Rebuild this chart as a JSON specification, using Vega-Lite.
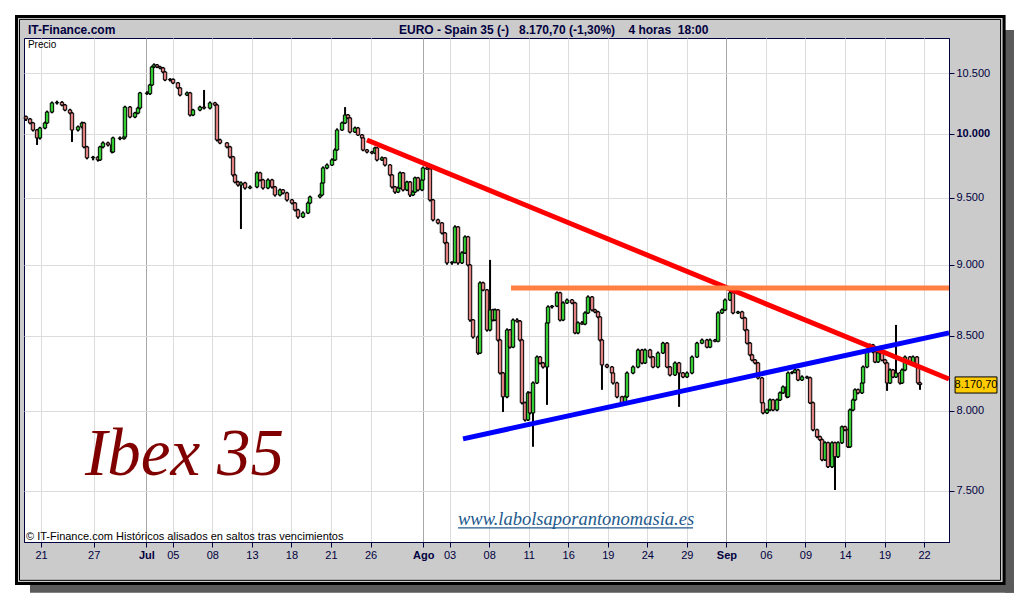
{
  "$schema": "https://vega.github.io/schema/vega-lite/v6.json",
  "description": "Ibex 35 - 4 hour candles with trend lines",
  "width": 925,
  "height": 504,
  "autosize": "none",
  "padding": {"left": 24, "top": 38, "right": 71, "bottom": 58},
  "background": "#cbcbcb",
  "config": {
    "view": {"fill": "white", "stroke": "#000040", "strokeWidth": 1},
    "font": "Liberation Sans"
  },
  "datasets": {
    "k": [
      {"t":-1.14,"o":10140,"h":10150,"l":10105,"c":10121},
      {"t":-0.83,"o":10121,"h":10130,"l":10078,"c":10089},
      {"t":-0.61,"o":10089,"h":10098,"l":10020,"c":10032},
      {"t":-0.30,"o":10032,"h":10040,"l":9912,"c":9968},
      {"t":-0.08,"o":9968,"h":10058,"l":9955,"c":10048},
      {"t":0.30,"o":10048,"h":10100,"l":10038,"c":10089},
      {"t":0.46,"o":10089,"h":10190,"l":10080,"c":10178},
      {"t":0.83,"o":10178,"h":10265,"l":10168,"c":10253},
      {"t":1.21,"o":10253,"h":10272,"l":10240,"c":10258},
      {"t":1.59,"o":10258,"h":10268,"l":10226,"c":10236},
      {"t":1.82,"o":10236,"h":10245,"l":10185,"c":10195},
      {"t":2.20,"o":10195,"h":10205,"l":10160,"c":10170},
      {"t":2.35,"o":10170,"h":10180,"l":9936,"c":10032},
      {"t":2.81,"o":10032,"h":10068,"l":10020,"c":10057},
      {"t":3.11,"o":10057,"h":10100,"l":10045,"c":10089},
      {"t":3.26,"o":10089,"h":10098,"l":9885,"c":9896},
      {"t":3.49,"o":9896,"h":9905,"l":9798,"c":9809},
      {"t":3.95,"o":9809,"h":9825,"l":9790,"c":9815},
      {"t":4.32,"o":9815,"h":9822,"l":9780,"c":9793},
      {"t":4.48,"o":9793,"h":9905,"l":9785,"c":9896},
      {"t":4.70,"o":9896,"h":9940,"l":9885,"c":9928},
      {"t":5.08,"o":9928,"h":9938,"l":9900,"c":9912},
      {"t":5.39,"o":9912,"h":9920,"l":9845,"c":9856},
      {"t":5.46,"o":9856,"h":9978,"l":9848,"c":9968},
      {"t":5.99,"o":9968,"h":9980,"l":9950,"c":9962},
      {"t":6.30,"o":9962,"h":9985,"l":9955,"c":9976},
      {"t":6.37,"o":9976,"h":10230,"l":9968,"c":10219},
      {"t":6.75,"o":10219,"h":10228,"l":10128,"c":10138},
      {"t":7.13,"o":10138,"h":10180,"l":10128,"c":10170},
      {"t":7.36,"o":10170,"h":10222,"l":10160,"c":10211},
      {"t":7.51,"o":10211,"h":10345,"l":10200,"c":10336},
      {"t":8.04,"o":10336,"h":10350,"l":10320,"c":10330},
      {"t":8.27,"o":10330,"h":10412,"l":10320,"c":10403},
      {"t":8.42,"o":10403,"h":10565,"l":10395,"c":10555},
      {"t":8.57,"o":10555,"h":10585,"l":10545,"c":10572},
      {"t":8.80,"o":10572,"h":10580,"l":10545,"c":10555},
      {"t":9.03,"o":10555,"h":10565,"l":10535,"c":10546},
      {"t":9.26,"o":10546,"h":10555,"l":10502,"c":10512},
      {"t":9.41,"o":10512,"h":10520,"l":10435,"c":10445},
      {"t":9.79,"o":10445,"h":10460,"l":10432,"c":10450},
      {"t":10.02,"o":10450,"h":10458,"l":10410,"c":10420},
      {"t":10.39,"o":10420,"h":10428,"l":10368,"c":10378},
      {"t":10.55,"o":10378,"h":10385,"l":10308,"c":10319},
      {"t":11.08,"o":10319,"h":10348,"l":10310,"c":10336},
      {"t":11.31,"o":10336,"h":10345,"l":10142,"c":10154},
      {"t":11.53,"o":10154,"h":10205,"l":10145,"c":10195},
      {"t":12.06,"o":10195,"h":10230,"l":10185,"c":10219},
      {"t":12.37,"o":10219,"h":10361,"l":10200,"c":10211},
      {"t":12.82,"o":10211,"h":10265,"l":10200,"c":10253},
      {"t":13.20,"o":10253,"h":10262,"l":10226,"c":10236},
      {"t":13.35,"o":10236,"h":10245,"l":9940,"c":9952},
      {"t":13.58,"o":9952,"h":9962,"l":9918,"c":9928},
      {"t":14.11,"o":9928,"h":9935,"l":9885,"c":9896},
      {"t":14.34,"o":9896,"h":9905,"l":9805,"c":9817},
      {"t":14.57,"o":9817,"h":9825,"l":9662,"c":9675},
      {"t":14.72,"o":9675,"h":9684,"l":9610,"c":9620},
      {"t":14.95,"o":9620,"h":9630,"l":9585,"c":9597},
      {"t":15.17,"o":9597,"h":9625,"l":9263,"c":9613},
      {"t":15.48,"o":9613,"h":9622,"l":9562,"c":9574},
      {"t":15.86,"o":9574,"h":9594,"l":9565,"c":9582},
      {"t":16.39,"o":9582,"h":9702,"l":9572,"c":9691},
      {"t":16.62,"o":9691,"h":9700,"l":9625,"c":9636},
      {"t":16.84,"o":9636,"h":9645,"l":9562,"c":9574},
      {"t":17.22,"o":9574,"h":9648,"l":9565,"c":9636},
      {"t":17.53,"o":9636,"h":9645,"l":9570,"c":9582},
      {"t":17.75,"o":9582,"h":9590,"l":9508,"c":9520},
      {"t":18.13,"o":9520,"h":9570,"l":9510,"c":9559},
      {"t":18.36,"o":9559,"h":9566,"l":9525,"c":9536},
      {"t":18.66,"o":9536,"h":9545,"l":9470,"c":9482},
      {"t":19.04,"o":9482,"h":9490,"l":9448,"c":9459},
      {"t":19.27,"o":9459,"h":9466,"l":9395,"c":9406},
      {"t":19.50,"o":9406,"h":9415,"l":9340,"c":9353},
      {"t":19.88,"o":9353,"h":9395,"l":9345,"c":9383},
      {"t":20.26,"o":9383,"h":9470,"l":9375,"c":9459},
      {"t":20.41,"o":9459,"h":9515,"l":9450,"c":9505},
      {"t":21.17,"o":9505,"h":9530,"l":9495,"c":9520},
      {"t":21.32,"o":9520,"h":9625,"l":9512,"c":9613},
      {"t":21.40,"o":9613,"h":9742,"l":9605,"c":9730},
      {"t":21.70,"o":9730,"h":9765,"l":9720,"c":9753},
      {"t":22.08,"o":9753,"h":9805,"l":9745,"c":9793},
      {"t":22.31,"o":9793,"h":9885,"l":9785,"c":9872},
      {"t":22.46,"o":9872,"h":10045,"l":9865,"c":10032},
      {"t":22.84,"o":10032,"h":10100,"l":10025,"c":10089},
      {"t":23.07,"o":10089,"h":10219,"l":10080,"c":10154},
      {"t":23.29,"o":10154,"h":10162,"l":10120,"c":10130},
      {"t":23.44,"o":10130,"h":10138,"l":10005,"c":10016},
      {"t":23.82,"o":10016,"h":10060,"l":10008,"c":10048},
      {"t":24.05,"o":10048,"h":10057,"l":9985,"c":9992},
      {"t":24.36,"o":9992,"h":10000,"l":9960,"c":9968},
      {"t":24.43,"o":9968,"h":9975,"l":9862,"c":9872},
      {"t":24.73,"o":9872,"h":9880,"l":9845,"c":9856},
      {"t":25.11,"o":9856,"h":9865,"l":9838,"c":9848},
      {"t":25.34,"o":9848,"h":9898,"l":9840,"c":9888},
      {"t":25.49,"o":9888,"h":9895,"l":9782,"c":9793},
      {"t":25.87,"o":9793,"h":9820,"l":9785,"c":9809},
      {"t":26.10,"o":9809,"h":9815,"l":9742,"c":9753},
      {"t":26.48,"o":9753,"h":9760,"l":9665,"c":9675},
      {"t":26.63,"o":9675,"h":9682,"l":9570,"c":9582},
      {"t":26.86,"o":9582,"h":9590,"l":9530,"c":9543},
      {"t":27.09,"o":9543,"h":9585,"l":9535,"c":9574},
      {"t":27.24,"o":9574,"h":9702,"l":9565,"c":9691},
      {"t":27.47,"o":9691,"h":9698,"l":9548,"c":9559},
      {"t":27.77,"o":9559,"h":9630,"l":9550,"c":9620},
      {"t":28.00,"o":9620,"h":9628,"l":9505,"c":9520},
      {"t":28.22,"o":9520,"h":9555,"l":9512,"c":9543},
      {"t":28.38,"o":9543,"h":9662,"l":9535,"c":9652},
      {"t":28.60,"o":9652,"h":9660,"l":9548,"c":9559},
      {"t":28.91,"o":9559,"h":9645,"l":9550,"c":9636},
      {"t":28.98,"o":9636,"h":9740,"l":9628,"c":9730},
      {"t":29.29,"o":9730,"h":9760,"l":9715,"c":9722},
      {"t":29.51,"o":9722,"h":9730,"l":9470,"c":9482},
      {"t":29.74,"o":9482,"h":9490,"l":9320,"c":9331},
      {"t":30.12,"o":9331,"h":9340,"l":9298,"c":9308},
      {"t":30.42,"o":9308,"h":9315,"l":9222,"c":9233},
      {"t":30.65,"o":9233,"h":9240,"l":9150,"c":9160},
      {"t":30.80,"o":9160,"h":9168,"l":9000,"c":9013},
      {"t":31.18,"o":9013,"h":9025,"l":9000,"c":9018},
      {"t":31.41,"o":9018,"h":9290,"l":9010,"c":9278},
      {"t":31.64,"o":9278,"h":9285,"l":9000,"c":9013},
      {"t":31.94,"o":9013,"h":9098,"l":9005,"c":9086},
      {"t":32.17,"o":9086,"h":9215,"l":9078,"c":9204},
      {"t":32.40,"o":9204,"h":9212,"l":8988,"c":8998},
      {"t":32.55,"o":8998,"h":9005,"l":8596,"c":8608},
      {"t":32.78,"o":8608,"h":8615,"l":8480,"c":8491},
      {"t":33.16,"o":8491,"h":8500,"l":8370,"c":8382},
      {"t":33.31,"o":8382,"h":8880,"l":8375,"c":8869},
      {"t":33.54,"o":8869,"h":8878,"l":8810,"c":8819},
      {"t":33.84,"o":8819,"h":8826,"l":8528,"c":8539},
      {"t":34.07,"o":8539,"h":9035,"l":8530,"c":8678},
      {"t":34.29,"o":8678,"h":8686,"l":8598,"c":8608},
      {"t":34.45,"o":8608,"h":8688,"l":8600,"c":8678},
      {"t":34.67,"o":8678,"h":8685,"l":8460,"c":8470},
      {"t":34.83,"o":8470,"h":8478,"l":8238,"c":8248},
      {"t":35.05,"o":8248,"h":8255,"l":7993,"c":8091},
      {"t":35.36,"o":8091,"h":8550,"l":8082,"c":8539},
      {"t":35.58,"o":8539,"h":8546,"l":8412,"c":8422},
      {"t":35.81,"o":8422,"h":8618,"l":8415,"c":8608},
      {"t":36.12,"o":8608,"h":8620,"l":8590,"c":8600},
      {"t":36.34,"o":8600,"h":8608,"l":8460,"c":8470},
      {"t":36.49,"o":8470,"h":8478,"l":8042,"c":8052},
      {"t":36.72,"o":8052,"h":8060,"l":7932,"c":7942},
      {"t":36.95,"o":7942,"h":8128,"l":7935,"c":8117},
      {"t":37.10,"o":8117,"h":8125,"l":7978,"c":7987},
      {"t":37.33,"o":7987,"h":8192,"l":7772,"c":8182},
      {"t":37.63,"o":8182,"h":8365,"l":8175,"c":8355},
      {"t":37.86,"o":8355,"h":8362,"l":8305,"c":8315},
      {"t":38.09,"o":8315,"h":8322,"l":8278,"c":8288},
      {"t":38.39,"o":8288,"h":8598,"l":8039,"c":8588},
      {"t":38.47,"o":8588,"h":8710,"l":8580,"c":8699},
      {"t":38.77,"o":8699,"h":8712,"l":8688,"c":8705},
      {"t":39.15,"o":8705,"h":8808,"l":8698,"c":8798},
      {"t":39.38,"o":8798,"h":8806,"l":8598,"c":8608},
      {"t":39.61,"o":8608,"h":8738,"l":8600,"c":8727},
      {"t":39.91,"o":8727,"h":8758,"l":8720,"c":8748},
      {"t":40.29,"o":8748,"h":8755,"l":8718,"c":8727},
      {"t":40.52,"o":8727,"h":8735,"l":8510,"c":8519},
      {"t":40.74,"o":8519,"h":8598,"l":8510,"c":8588},
      {"t":41.05,"o":8588,"h":8600,"l":8575,"c":8580},
      {"t":41.27,"o":8580,"h":8668,"l":8572,"c":8657},
      {"t":41.50,"o":8657,"h":8780,"l":8650,"c":8769},
      {"t":41.81,"o":8769,"h":8776,"l":8668,"c":8678},
      {"t":42.03,"o":8678,"h":8686,"l":8655,"c":8664},
      {"t":42.26,"o":8664,"h":8672,"l":8620,"c":8629},
      {"t":42.41,"o":8629,"h":8636,"l":8460,"c":8470},
      {"t":42.56,"o":8470,"h":8478,"l":8137,"c":8302},
      {"t":42.94,"o":8302,"h":8310,"l":8280,"c":8288},
      {"t":43.32,"o":8288,"h":8295,"l":8240,"c":8248},
      {"t":43.40,"o":8248,"h":8255,"l":8172,"c":8182},
      {"t":43.70,"o":8182,"h":8190,"l":8082,"c":8091},
      {"t":44.08,"o":8091,"h":8098,"l":8044,"c":8052},
      {"t":44.31,"o":8052,"h":8100,"l":8045,"c":8091},
      {"t":44.46,"o":8091,"h":8258,"l":8084,"c":8248},
      {"t":44.92,"o":8248,"h":8298,"l":8240,"c":8288},
      {"t":45.30,"o":8288,"h":8412,"l":8280,"c":8402},
      {"t":45.60,"o":8402,"h":8410,"l":8306,"c":8315},
      {"t":45.83,"o":8315,"h":8412,"l":8308,"c":8402},
      {"t":46.21,"o":8402,"h":8410,"l":8346,"c":8355},
      {"t":46.43,"o":8355,"h":8362,"l":8280,"c":8288},
      {"t":46.81,"o":8288,"h":8392,"l":8280,"c":8382},
      {"t":47.19,"o":8382,"h":8458,"l":8375,"c":8449},
      {"t":47.50,"o":8449,"h":8456,"l":8280,"c":8288},
      {"t":47.72,"o":8288,"h":8295,"l":8226,"c":8235},
      {"t":48.10,"o":8235,"h":8325,"l":8228,"c":8315},
      {"t":48.41,"o":8315,"h":8322,"l":8026,"c":8248},
      {"t":48.71,"o":8248,"h":8255,"l":8214,"c":8222},
      {"t":49.01,"o":8222,"h":8258,"l":8215,"c":8248},
      {"t":49.39,"o":8248,"h":8365,"l":8240,"c":8355},
      {"t":49.77,"o":8355,"h":8458,"l":8348,"c":8449},
      {"t":50.15,"o":8449,"h":8480,"l":8442,"c":8470},
      {"t":50.53,"o":8470,"h":8478,"l":8414,"c":8422},
      {"t":50.76,"o":8422,"h":8480,"l":8415,"c":8470},
      {"t":51.14,"o":8470,"h":8478,"l":8455,"c":8462},
      {"t":51.37,"o":8462,"h":8668,"l":8455,"c":8657},
      {"t":51.67,"o":8657,"h":8688,"l":8650,"c":8678},
      {"t":51.90,"o":8678,"h":8758,"l":8670,"c":8748},
      {"t":52.28,"o":8748,"h":8833,"l":8740,"c":8798},
      {"t":52.50,"o":8798,"h":8806,"l":8648,"c":8657},
      {"t":52.88,"o":8657,"h":8672,"l":8650,"c":8664},
      {"t":53.19,"o":8664,"h":8672,"l":8614,"c":8622},
      {"t":53.41,"o":8622,"h":8630,"l":8530,"c":8539},
      {"t":53.57,"o":8539,"h":8546,"l":8440,"c":8449},
      {"t":53.79,"o":8449,"h":8456,"l":8360,"c":8369},
      {"t":53.95,"o":8369,"h":8376,"l":8326,"c":8335},
      {"t":54.17,"o":8335,"h":8342,"l":8306,"c":8315},
      {"t":54.40,"o":8315,"h":8322,"l":8206,"c":8215},
      {"t":54.70,"o":8215,"h":8222,"l":8044,"c":8052},
      {"t":54.78,"o":8052,"h":8060,"l":7978,"c":7987},
      {"t":55.08,"o":7987,"h":8015,"l":7980,"c":8006},
      {"t":55.31,"o":8006,"h":8080,"l":7998,"c":8071},
      {"t":55.54,"o":8071,"h":8078,"l":7998,"c":8006},
      {"t":55.84,"o":8006,"h":8080,"l":7998,"c":8071},
      {"t":56.07,"o":8071,"h":8126,"l":8064,"c":8117},
      {"t":56.30,"o":8117,"h":8165,"l":8110,"c":8156},
      {"t":56.60,"o":8156,"h":8163,"l":8082,"c":8091},
      {"t":56.68,"o":8091,"h":8258,"l":8084,"c":8248},
      {"t":56.98,"o":8248,"h":8260,"l":8240,"c":8252},
      {"t":57.21,"o":8252,"h":8278,"l":8245,"c":8268},
      {"t":57.44,"o":8268,"h":8275,"l":8194,"c":8202},
      {"t":57.74,"o":8202,"h":8232,"l":8195,"c":8222},
      {"t":58.12,"o":8222,"h":8230,"l":8210,"c":8216},
      {"t":58.35,"o":8216,"h":8224,"l":8044,"c":8052},
      {"t":58.57,"o":8052,"h":8060,"l":7870,"c":7879},
      {"t":58.88,"o":7879,"h":7886,"l":7826,"c":7835},
      {"t":59.10,"o":7835,"h":7842,"l":7808,"c":7816},
      {"t":59.26,"o":7816,"h":7824,"l":7682,"c":7691},
      {"t":59.48,"o":7691,"h":7806,"l":7684,"c":7797},
      {"t":59.71,"o":7797,"h":7804,"l":7640,"c":7648},
      {"t":60.02,"o":7648,"h":7806,"l":7640,"c":7797},
      {"t":60.24,"o":7797,"h":7804,"l":7506,"c":7710},
      {"t":60.47,"o":7710,"h":7806,"l":7702,"c":7797},
      {"t":60.77,"o":7797,"h":7906,"l":7790,"c":7898},
      {"t":61.00,"o":7898,"h":7905,"l":7870,"c":7879},
      {"t":61.23,"o":7879,"h":7886,"l":7764,"c":7772},
      {"t":61.38,"o":7772,"h":8015,"l":7765,"c":8006},
      {"t":61.61,"o":8006,"h":8080,"l":7998,"c":8071},
      {"t":61.76,"o":8071,"h":8146,"l":8064,"c":8137},
      {"t":61.99,"o":8137,"h":8145,"l":8108,"c":8117},
      {"t":62.29,"o":8117,"h":8192,"l":8110,"c":8182},
      {"t":62.37,"o":8182,"h":8298,"l":8175,"c":8288},
      {"t":62.67,"o":8288,"h":8412,"l":8280,"c":8402},
      {"t":62.90,"o":8402,"h":8446,"l":8395,"c":8436},
      {"t":63.13,"o":8436,"h":8444,"l":8380,"c":8389},
      {"t":63.28,"o":8389,"h":8396,"l":8314,"c":8322},
      {"t":63.51,"o":8322,"h":8392,"l":8315,"c":8382},
      {"t":63.81,"o":8382,"h":8390,"l":8326,"c":8335},
      {"t":64.04,"o":8335,"h":8342,"l":8306,"c":8315},
      {"t":64.19,"o":8315,"h":8322,"l":8130,"c":8182},
      {"t":64.42,"o":8182,"h":8278,"l":8175,"c":8268},
      {"t":64.64,"o":8268,"h":8275,"l":8214,"c":8222},
      {"t":64.87,"o":8222,"h":8574,"l":8215,"c":8248},
      {"t":65.17,"o":8248,"h":8255,"l":8172,"c":8182},
      {"t":65.33,"o":8182,"h":8278,"l":8175,"c":8268},
      {"t":65.55,"o":8268,"h":8365,"l":8260,"c":8355},
      {"t":65.93,"o":8355,"h":8362,"l":8306,"c":8315},
      {"t":66.16,"o":8315,"h":8365,"l":8308,"c":8355},
      {"t":66.46,"o":8355,"h":8362,"l":8280,"c":8288},
      {"t":66.54,"o":8288,"h":8295,"l":8172,"c":8182},
      {"t":66.69,"o":8182,"h":8190,"l":8137,"c":8171}
    ],
    "tl": [
      {"name": "red", "t": 24.73, "v": 9952},
      {"name": "red", "t": 68.89, "v": 8208},
      {"name": "orange", "t": 35.66, "v": 8833},
      {"name": "orange", "t": 68.89, "v": 8833},
      {"name": "blue", "t": 32.02, "v": 7822},
      {"name": "blue", "t": 68.89, "v": 8519}
    ],
    "one": [{}]
  },
  "layer": [
    {
      "data": {"name": "k"},
      "mark": {"type": "rule", "color": "black", "strokeWidth": 2},
      "encoding": {
        "x": {
          "field": "t",
          "type": "quantitative",
          "title": null,
          "scale": {"domain": [-1.29, 68.89], "nice": false, "zero": false, "padding": 0},
          "axis": {
            "values": [0, 4, 8, 10, 13, 16, 19, 22, 25, 29, 31, 34, 37, 40, 43, 46, 49, 52, 55, 58, 61, 64, 67],
            "labelExpr": "['21','27','Jul','05','08','13','18','21','26','Ago','03','08','11','16','19','24','29','Sep','06','09','14','19','22'][indexof([0,4,8,10,13,16,19,22,25,29,31,34,37,40,43,46,49,52,55,58,61,64,67], datum.value)]",
            "labelFontWeight": {"condition": {"test": "datum.value == 8 || datum.value == 29 || datum.value == 52", "value": "bold"}, "value": "normal"},
            "gridColor": {"condition": {"test": "datum.value == 8 || datum.value == 29 || datum.value == 52", "value": "#a8a8a8"}, "value": "#dcdcdc"},
            "grid": true,
            "labelFontSize": 11,
            "labelColor": "#000040",
            "labelFlush": false,
            "labelOverlap": false,
            "labelPadding": 2,
            "tickSize": 5,
            "tickColor": "#000040",
            "domainColor": "#000040"
          }
        },
        "y": {
          "field": "l",
          "type": "quantitative",
          "title": null,
          "scale": {"type": "log", "domain": [7198, 10804], "nice": false, "zero": false, "padding": 0},
          "axis": {
            "orient": "right",
            "values": [7500, 8000, 8500, 9000, 9500, 10000, 10500],
            "labelExpr": "replace(format(datum.value, ','), ',', '.')",
            "labelFontWeight": {"condition": {"test": "datum.value == 10000", "value": "bold"}, "value": "normal"},
            "grid": true,
            "gridColor": "#dcdcdc",
            "labelFontSize": 11,
            "labelColor": "#000040",
            "labelPadding": 2,
            "tickSize": 5,
            "tickColor": "#000040",
            "domainColor": "#000040"
          }
        },
        "y2": {"field": "h"}
      }
    },
    {
      "data": {"name": "k"},
      "mark": {"type": "bar", "width": 3.4, "stroke": "black", "strokeWidth": 1},
      "encoding": {
        "x": {"field": "t", "type": "quantitative"},
        "y": {"field": "o", "type": "quantitative"},
        "y2": {"field": "c"},
        "fill": {"condition": {"test": "datum.c >= datum.o", "value": "#33cc33"}, "value": "#e08080"}
      }
    },
    {
      "data": {"name": "tl"},
      "mark": {"type": "line", "strokeWidth": 5},
      "encoding": {
        "x": {"field": "t", "type": "quantitative"},
        "y": {"field": "v", "type": "quantitative"},
        "detail": {"field": "name"},
        "color": {
          "field": "name",
          "type": "nominal",
          "scale": {"domain": ["red", "orange", "blue"], "range": ["#ff0000", "#ff8040", "#0000ff"]},
          "legend": null
        }
      }
    },
    {
      "data": {"name": "one"},
      "mark": {"type": "text", "text": "Ibex 35", "font": "Liberation Serif", "fontSize": 67, "fontStyle": "italic", "color": "#800000", "align": "left", "baseline": "alphabetic"},
      "encoding": {"x": {"datum": 3.34}, "y": {"datum": 7597}}
    },
    {
      "data": {"name": "one"},
      "mark": {"type": "text", "text": "www.labolsaporantonomasia.es", "font": "Liberation Serif", "fontSize": 18.5, "fontStyle": "italic", "color": "#245a8d", "align": "left", "baseline": "alphabetic"},
      "encoding": {"x": {"datum": 31.64}, "y": {"datum": 7298}}
    },
    {
      "data": {"name": "one"},
      "mark": {"type": "rule", "color": "#245a8d", "strokeWidth": 1.2},
      "encoding": {"x": {"datum": 31.64}, "x2": {"datum": 49.47}, "y": {"datum": 7280}}
    },
    {
      "data": {"name": "one"},
      "mark": {"type": "text", "text": "Precio", "fontSize": 10, "color": "black", "align": "left", "baseline": "alphabetic"},
      "encoding": {"x": {"datum": -0.99}, "y": {"datum": 10718}}
    },
    {
      "data": {"name": "one"},
      "mark": {"type": "text", "text": "© IT-Finance.com  Históricos alisados en saltos tras vencimientos", "fontSize": 11, "color": "black", "align": "left", "baseline": "alphabetic"},
      "encoding": {"x": {"datum": -1.14}, "y": {"datum": 7210}}
    },
    {
      "data": {"name": "one"},
      "mark": {"type": "text", "text": "IT-Finance.com", "fontSize": 12, "fontWeight": "bold", "color": "#000040", "align": "left", "baseline": "alphabetic"},
      "encoding": {"x": {"datum": -0.99}, "y": {"datum": 10839}}
    },
    {
      "data": {"name": "one"},
      "mark": {"type": "text", "text": "EURO - Spain 35 (-)\u00a0\u00a0\u00a08.170,70 (-1,30%)\u00a0\u00a0\u00a0\u00a04 horas\u00a0\u00a018:00", "fontSize": 12, "fontWeight": "bold", "color": "#000040", "align": "left", "baseline": "alphabetic"},
      "encoding": {"x": {"datum": 27.16}, "y": {"datum": 10839}}
    },
    {
      "data": {"name": "one"},
      "mark": {"type": "rect", "fill": "#ffcc00", "stroke": "black", "strokeWidth": 1},
      "encoding": {"x": {"datum": 69.35}, "x2": {"datum": 72.53}, "y": {"datum": 8222}, "y2": {"datum": 8116}}
    },
    {
      "data": {"name": "one"},
      "mark": {"type": "text", "text": "8.170,70", "fontSize": 11, "color": "black", "align": "center", "baseline": "middle"},
      "encoding": {"x": {"datum": 70.94}, "y": {"datum": 8170.7}}
    },
    {
      "data": {"name": "one"},
      "mark": {"type": "rect", "fill": null, "stroke": "white", "strokeWidth": 34},
      "encoding": {"x": {"datum": -3.187}, "x2": {"datum": 74.36}, "y": {"datum": 11149}, "y2": {"datum": 6864}}
    },
    {
      "data": {"name": "one"},
      "mark": {"type": "rect", "fill": "#5a5a5a"},
      "encoding": {"x": {"datum": 73.14}, "x2": {"datum": 73.82}, "y": {"datum": 10874}, "y2": {"datum": 6909}}
    },
    {
      "data": {"name": "one"},
      "mark": {"type": "rect", "fill": "#5a5a5a"},
      "encoding": {"x": {"datum": -0.835}, "x2": {"datum": 73.82}, "y": {"datum": 6953}, "y2": {"datum": 6909}}
    },
    {
      "data": {"name": "one"},
      "mark": {"type": "rect", "fill": null, "stroke": "black", "strokeWidth": 3},
      "encoding": {"x": {"datum": -1.859}, "x2": {"datum": 73.07}, "y": {"datum": 10993}, "y2": {"datum": 6961}}
    },
    {
      "data": {"name": "one"},
      "mark": {"type": "rect", "fill": null, "stroke": "black", "strokeWidth": 1},
      "encoding": {"x": {"datum": -1.631}, "x2": {"datum": 72.80}, "y": {"datum": 10967}, "y2": {"datum": 6979}}
    }
  ]
}
